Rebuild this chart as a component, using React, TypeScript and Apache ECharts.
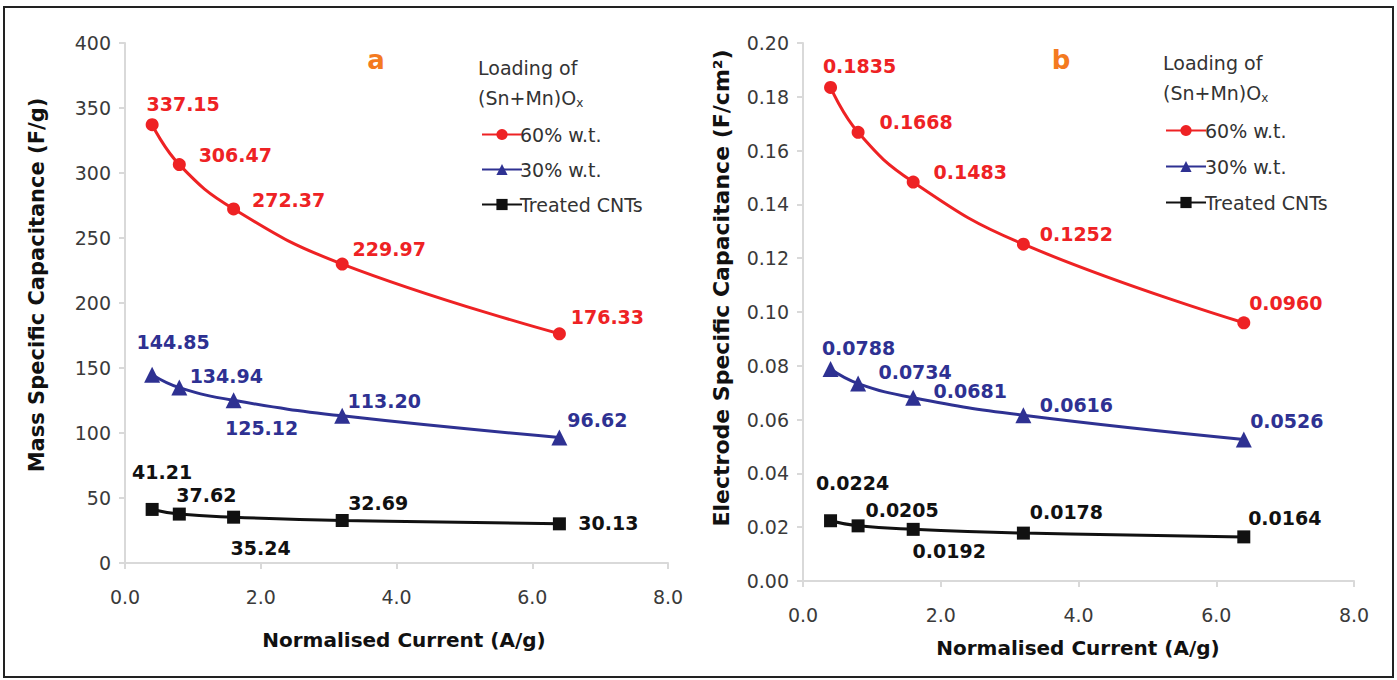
import React, { useEffect, useRef } from "react";
import * as echarts from "echarts";

// ---------- data ----------
const currents = [0.4, 0.8, 1.6, 3.2, 6.4];

const massCap60 = [337.15, 306.47, 272.37, 229.97, 176.33];
const massCap30 = [144.85, 134.94, 125.12, 113.2, 96.62];
const massCapCNT = [41.21, 37.62, 35.24, 32.69, 30.13];

const elecCap60 = [0.1835, 0.1668, 0.1483, 0.1252, 0.096];
const elecCap30 = [0.0788, 0.0734, 0.0681, 0.0616, 0.0526];
const elecCapCNT = [0.0224, 0.0205, 0.0192, 0.0178, 0.0164];

const seriesNames = ["60% w.t.", "30% w.t.", "Treated CNTs"];

// label text for each point (as printed)
const massLabels60 = ["337.15", "306.47", "272.37", "229.97", "176.33"];
const massLabels30 = ["144.85", "134.94", "125.12", "113.20", "96.62"];
const massLabelsCNT = ["41.21", "37.62", "35.24", "32.69", "30.13"];
const elecLabels60 = ["0.1835", "0.1668", "0.1483", "0.1252", "0.0960"];
const elecLabels30 = ["0.0788", "0.0734", "0.0681", "0.0616", "0.0526"];
const elecLabelsCNT = ["0.0224", "0.0205", "0.0192", "0.0178", "0.0164"];

// ---------- layout (label offsets from marker centre) ----------
const offA60 = [[31, -21], [56, -10], [55, -9], [47, -15], [48, -17]];
const offA30 = [[21, -33], [47, -12], [28, 28], [42, -15], [38, -17]];
const offACNT = [[10, -37], [27, -19], [27, 31], [36, -18], [49, -1]];
const offB60 = [[29, -21], [58, -10], [57, -10], [53, -10], [42, -20]];
const offB30 = [[28, -21], [57, -12], [57, -7], [53, -10], [43, -19]];
const offBCNT = [[22, -38], [44, -16], [36, 22], [43, -21], [41, -19]];

const RED = "#ee2224";
const BLUE = "#2e3192";
const BLACK = "#111111";
const ORANGE = "#f47a20";
const FONT = "DejaVu Sans";

function makeSeries(
  name: string,
  vals: number[],
  labels: string[],
  offs: number[][],
  color: string,
  symbol: string,
  symbolSize: number,
  gridIdx: number
) {
  return {
    type: "line",
    name,
    xAxisIndex: gridIdx,
    yAxisIndex: gridIdx,
    smooth: 0.45,
    symbol,
    symbolSize,
    color,
    lineStyle: { color, width: 3 },
    itemStyle: { color },
    data: currents.map((x, i) => ({
      value: [x, vals[i]],
      label: {
        show: true,
        position: "inside",
        offset: offs[i],
        formatter: labels[i],
        color,
        fontFamily: FONT,
        fontWeight: "bold",
        fontSize: 19,
        align: "center",
        verticalAlign: "middle",
      },
    })),
    z: 3,
  };
}

const axisLine = { show: true, lineStyle: { color: "#d9d9d9", width: 2 } };
const axisTick = { show: true, length: 6, lineStyle: { color: "#d9d9d9", width: 2 } };
const axisLabel = { color: "#3a3a3a", fontFamily: FONT, fontSize: 19 };

export default function App() {
  const ref = useRef<HTMLDivElement>(null);
  useEffect(() => {
    if (!ref.current) return;
    const chart = echarts.init(ref.current, null, { renderer: "svg" });
    const option = {
      animation: false,
      backgroundColor: "#ffffff",
      grid: [
        { left: 125, top: 43, width: 543, height: 520 },
        { left: 803, top: 43, width: 551, height: 538 },
      ],
      xAxis: [
        {
          type: "value",
          gridIndex: 0,
          min: 0,
          max: 8,
          interval: 2,
          axisLine,
          axisTick,
          splitLine: { show: false },
          axisLabel: { ...axisLabel, margin: 24, formatter: (v: number) => v.toFixed(1) },
        },
        {
          type: "value",
          gridIndex: 1,
          min: 0,
          max: 8,
          interval: 2,
          axisLine,
          axisTick,
          splitLine: { show: false },
          axisLabel: { ...axisLabel, margin: 24, formatter: (v: number) => v.toFixed(1) },
        },
      ],
      yAxis: [
        {
          type: "value",
          gridIndex: 0,
          min: 0,
          max: 400,
          interval: 50,
          axisLine,
          axisTick,
          splitLine: { show: false },
          axisLabel: { ...axisLabel, margin: 14 },
        },
        {
          type: "value",
          gridIndex: 1,
          min: 0,
          max: 0.2,
          interval: 0.02,
          axisLine,
          axisTick,
          splitLine: { show: false },
          axisLabel: { ...axisLabel, margin: 14, formatter: (v: number) => v.toFixed(2) },
        },
      ],
      legend: [
        {
          data: seriesNames,
          orient: "vertical",
          left: 476,
          top: 120,
          itemWidth: 40,
          itemHeight: 14,
          itemGap: 16,
          textStyle: { color: "#333", fontFamily: FONT, fontSize: 19, padding: [0, 0, 0, -7] },
        },
        {
          data: seriesNames,
          orient: "vertical",
          left: 1160,
          top: 116,
          itemWidth: 40,
          itemHeight: 14,
          itemGap: 17,
          textStyle: { color: "#333", fontFamily: FONT, fontSize: 19, padding: [0, 0, 0, -6] },
        },
      ],
      series: [
        makeSeries(seriesNames[0], massCap60, massLabels60, offA60, RED, "circle", 13, 0),
        makeSeries(seriesNames[1], massCap30, massLabels30, offA30, BLUE, "triangle", 16, 0),
        makeSeries(seriesNames[2], massCapCNT, massLabelsCNT, offACNT, BLACK, "rect", 13, 0),
        makeSeries(seriesNames[0], elecCap60, elecLabels60, offB60, RED, "circle", 13, 1),
        makeSeries(seriesNames[1], elecCap30, elecLabels30, offB30, BLUE, "triangle", 16, 1),
        makeSeries(seriesNames[2], elecCapCNT, elecLabelsCNT, offBCNT, BLACK, "rect", 13, 1),
      ],
      graphic: [
        {
          type: "rect",
          shape: { x: 4, y: 7, width: 1389, height: 670 },
          style: { fill: "none", stroke: "#222", lineWidth: 2 },
          silent: true,
        },
        {
          type: "text",
          x: 376,
          y: 60,
          style: { text: "a", fill: ORANGE, font: `bold 26px "${FONT}"`, align: "center", verticalAlign: "middle" },
        },
        {
          type: "text",
          x: 1061,
          y: 60,
          style: { text: "b", fill: ORANGE, font: `bold 26px "${FONT}"`, align: "center", verticalAlign: "middle" },
        },
        {
          type: "text",
          x: 478,
          y: 68,
          style: { text: "Loading of", fill: "#333", font: `19px "${FONT}"`, verticalAlign: "middle" },
        },
        {
          type: "text",
          x: 478,
          y: 98,
          style: {
            text: "(Sn+Mn)O{sub|x}",
            fill: "#333",
            font: `19px "${FONT}"`,
            verticalAlign: "middle",
            rich: { sub: { fontSize: 12, fontFamily: FONT, fill: "#333", padding: [10, 0, 0, 0] } },
          },
        },
        {
          type: "text",
          x: 1163,
          y: 63,
          style: { text: "Loading of", fill: "#333", font: `19px "${FONT}"`, verticalAlign: "middle" },
        },
        {
          type: "text",
          x: 1163,
          y: 93,
          style: {
            text: "(Sn+Mn)O{sub|x}",
            fill: "#333",
            font: `19px "${FONT}"`,
            verticalAlign: "middle",
            rich: { sub: { fontSize: 12, fontFamily: FONT, fill: "#333", padding: [10, 0, 0, 0] } },
          },
        },
        {
          type: "text",
          x: 404,
          y: 640,
          style: { text: "Normalised Current (A/g)", fill: "#111", font: `bold 20px "${FONT}"`, align: "center", verticalAlign: "middle" },
        },
        {
          type: "text",
          x: 1078,
          y: 648,
          style: { text: "Normalised Current (A/g)", fill: "#111", font: `bold 20px "${FONT}"`, align: "center", verticalAlign: "middle" },
        },
        {
          type: "text",
          x: 37,
          y: 285,
          rotation: Math.PI / 2,
          style: { text: "Mass Specific Capacitance (F/g)", fill: "#111", font: `bold 21px "${FONT}"`, align: "center", verticalAlign: "middle" },
        },
        {
          type: "text",
          x: 721,
          y: 288,
          rotation: Math.PI / 2,
          style: { text: "Electrode Specific Capacitance (F/cm²)", fill: "#111", font: `bold 22px "${FONT}"`, align: "center", verticalAlign: "middle" },
        },
      ],
    };
    chart.setOption(option as any);
    return () => chart.dispose();
  }, []);
  return (
    <div
      ref={ref}
      style={{ position: "fixed", left: 0, top: 0, width: 1397, height: 680 }}
    />
  );
}
